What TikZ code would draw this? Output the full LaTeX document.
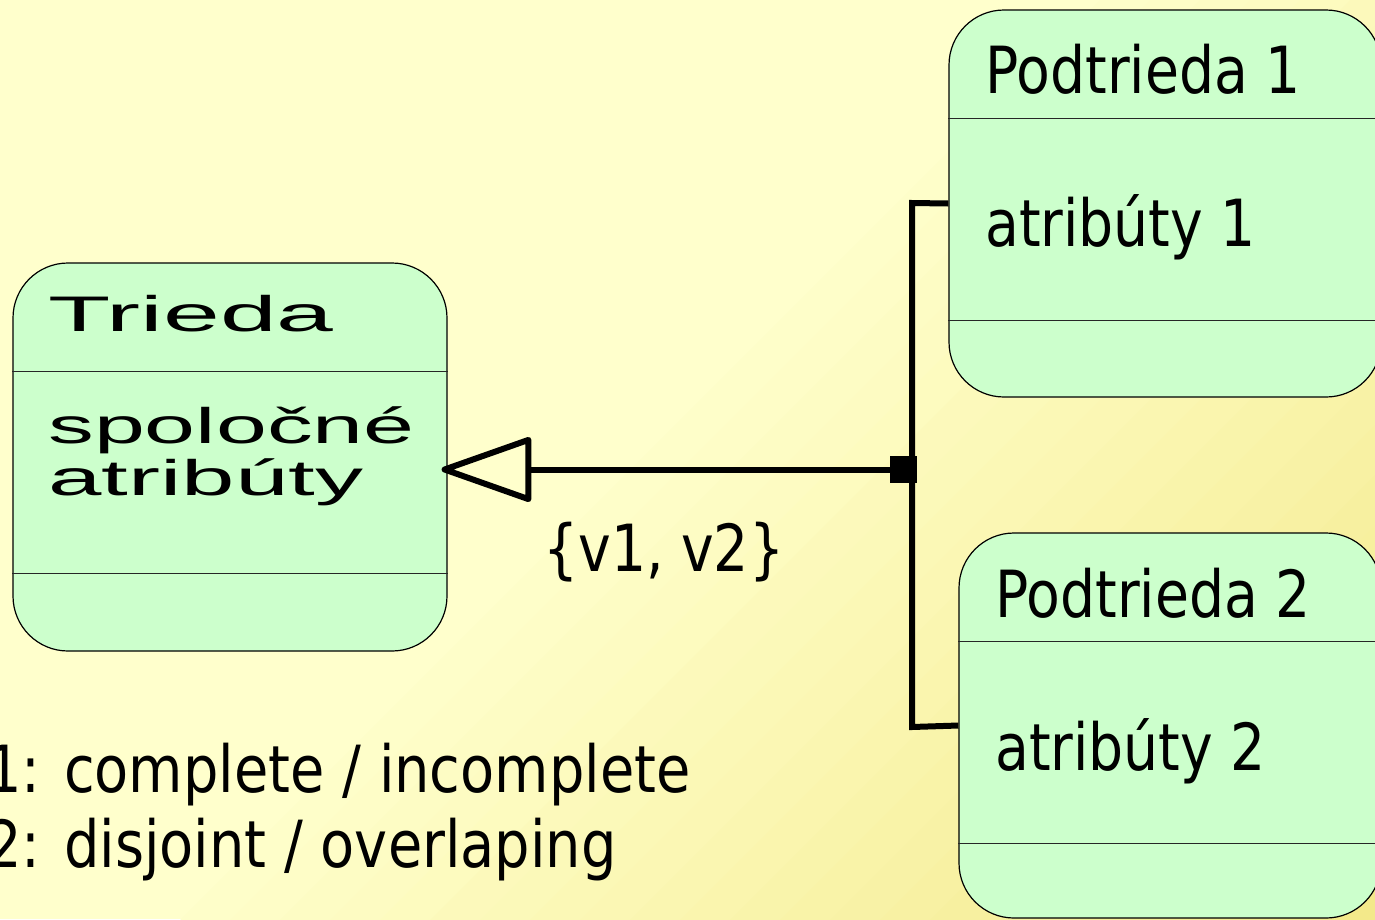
\documentclass[tikz,border=0pt]{standalone}
\usepackage{fontspec}
\setmainfont{DejaVu Sans}
\newfontfamily\widefont{Liberation Sans}
\usetikzlibrary{arrows.meta,calc}

\definecolor{boxgreen}{HTML}{CCFFCC}
\definecolor{bgtop}{HTML}{FFFFCC}
\definecolor{bgbottom}{HTML}{F3E98A}

\begin{document}
\begin{tikzpicture}[x=1pt,y=-1pt,
  classbox/.style={draw=black, line width=1.2pt, fill=boxgreen, rectangle,
    rounded corners=55pt, inner sep=0pt},
  divider/.style={line width=1.4pt, draw=black!85},
  lbl/.style={anchor=base west, inner sep=0pt, xscale=0.85,
    font=\fontsize{65}{65}\selectfont},
  widelbl/.style={anchor=base west, inner sep=0pt,
    font=\widefont\fontsize{50}{52}\selectfont},
  link/.style={line width=6pt},
]
\useasboundingbox (0,0) rectangle (1375,919);
\clip (0,0) rectangle (1375,919);

% background: pale yellow, warming in diagonal bands towards the lower right
\fill[bgtop] (0,0) rectangle (1375,919);
\foreach \i in {0,...,23}{
  \pgfmathsetmacro{\a}{1100+50*\i}
  \pgfmathsetmacro{\b}{\a+51}
  \pgfmathtruncatemacro{\p}{(\i+1)/24*100}
  \fill[bgbottom!\p!bgtop] (\a,0) -- (\b,0) -- (\b-1000,1000) -- (\a-1000,1000) -- cycle;
}

% class boxes
\node[classbox, minimum width=434pt, minimum height=388pt] (trieda) at (230,457) {};
\node[classbox, minimum width=432pt, minimum height=387pt] (p1) at (1165,203.5) {};
\node[classbox, minimum width=422pt, minimum height=385pt] (p2) at (1170,725.5) {};

% compartment dividers
\foreach \bx in {trieda,p1,p2}{
  \draw[divider] ($(\bx.north west)+(0,109)$) -- ($(\bx.north east)+(0,109)$);
  \draw[divider] ($(\bx.north west)+(0,311)$) -- ($(\bx.north east)+(0,311)$);
}

% box texts
\node[widelbl, xscale=2.04] (tName) at (48,331) {Trieda};
\node[widelbl, xscale=1.83] (tAttrA) at (48,443) {spoločné};
\node[widelbl, xscale=1.92] (tAttrB) at (48,495) {atribúty};
\node[lbl] (p1Name) at (985,93) {Podtrieda 1};
\node[lbl] (p1Attr) at (985,246) {atribúty 1};
\node[lbl] (p2Name) at (995,617) {Podtrieda 2};
\node[lbl] (p2Attr) at (995,770) {atribúty 2};

% generalization set
\node[fill=black, minimum size=27pt, inner sep=0pt] (junc) at (903.5,469.5) {};
\coordinate (jt) at (912,203);
\coordinate (jb) at (912,727);
\draw[link] (p1.west) -- (jt) -- (jb) -- (p2.west);
\draw[link, -{Triangle[open, round, length=96pt, width=66pt]}, shorten >=-6pt]
  (junc.center) -- (junc.center -| trieda.east);
\node[lbl] (gs) at (543,571) {\{v1, v2\}};

% legend
\node[lbl, xscale=1.01] (legA) at (-14,792) {1: complete / incomplete};
\node[lbl, xscale=1.01] (legB) at (-14,867) {2: disjoint / overlaping};
\end{tikzpicture}
\end{document}
